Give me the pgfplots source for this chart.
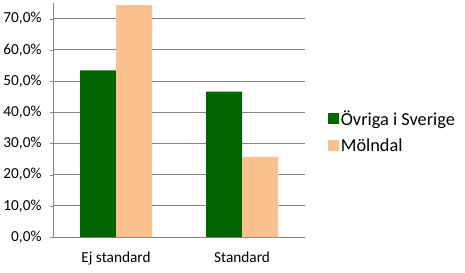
\documentclass[border=0pt]{standalone}
\usepackage{pgfplots}
\pgfplotsset{compat=1.18}
\usepackage{fontspec}
\setmainfont{Carlito}
\definecolor{cgreen}{HTML}{006600}
\definecolor{cpink}{HTML}{FAC090}
\definecolor{cgrid}{HTML}{868686}
\begin{document}
\begin{tikzpicture}[x=1bp,y=1bp]
\useasboundingbox (0,0) rectangle (465,272);
\begin{axis}[
  at={(53bp,35bp)}, anchor=south west,
  scale only axis, width=252bp, height=234bp,
  ybar=0pt, bar width=36bp,
  xmin=-0.5, xmax=1.5, ymin=0, ymax=75,
  xtick={0,1}, xticklabels={Ej standard,Standard},
  major x tick style={draw=none},
  extra x ticks={-0.5,0.5,1.5}, extra x tick labels={},
  extra x tick style={major tick length=5bp, tick align=outside, tick style={draw=cgrid}, grid=none},
  ytick={0,10,...,70},
  ymajorgrids, grid style={cgrid, line width=0.8pt},
  major y tick style={draw=cgrid},
  major tick length=3bp, tick align=outside,
  axis x line*=bottom, axis y line*=left,
  axis line style={cgrid, line width=0.8pt},
  /pgf/number format/assume math mode=true,
  yticklabel={\pgfmathprintnumber[fixed,fixed zerofill,precision=1,use comma]{\tick}\%},
  ticklabel style={font=\fontsize{15.3bp}{18bp}\selectfont, text=black},
  yticklabel style={xshift=-5bp},
  xticklabel style={yshift=-8bp},
  legend style={draw=none, fill=none, at={(1.09,0.449)}, anchor=west, inner sep=0pt,
    font=\fontsize{18.3bp}{20bp}\selectfont, row sep=8bp},
  legend cell align=left,
  legend image code/.code={\fill[#1] (0bp,-5bp) rectangle (11bp,6bp);},
]
\addplot[fill=cgreen, draw=none] coordinates {(0,53.4) (1,46.6)};
\addplot[fill=cpink, draw=none] coordinates {(0,74.3) (1,25.7)};
\legend{Övriga i Sverige, Mölndal}
\end{axis}
\end{tikzpicture}
\end{document}
